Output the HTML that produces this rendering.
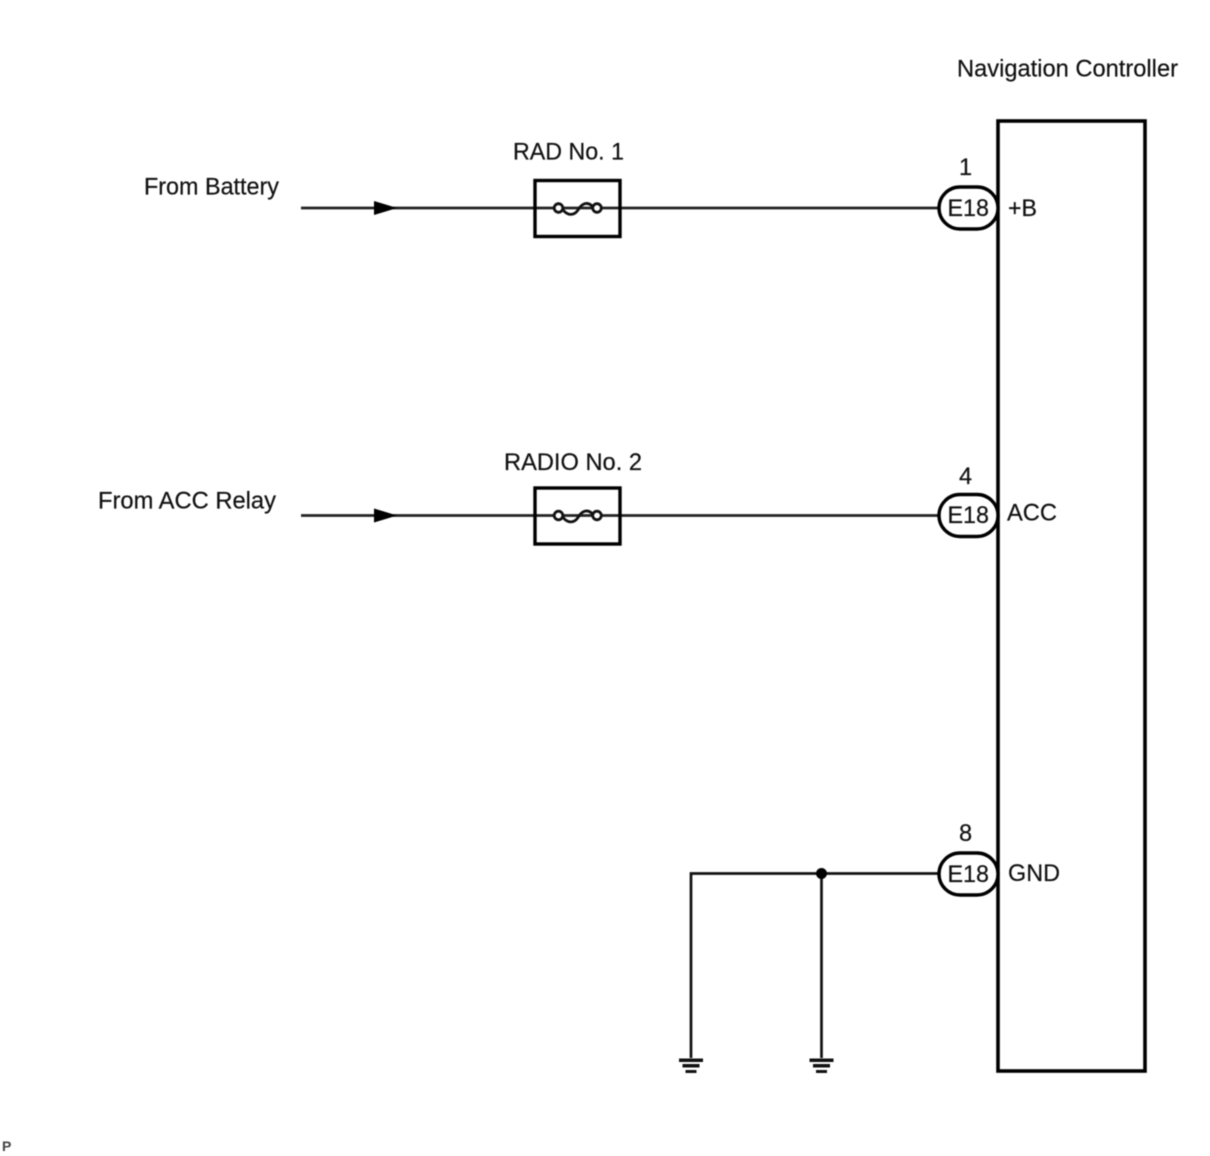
<!DOCTYPE html>
<html>
<head>
<meta charset="utf-8">
<style>
html,body{margin:0;padding:0;background:#fff;width:1210px;height:1156px;overflow:hidden}
svg{display:block;filter:blur(0.45px)}
text{font-family:"Liberation Sans",sans-serif;font-size:23.6px;fill:#111;stroke:#111;stroke-width:0.2px}
</style>
</head>
<body>
<svg width="1210" height="1156" viewBox="0 0 1210 1156" xmlns="http://www.w3.org/2000/svg">
<rect width="1210" height="1156" fill="#fff" style="fill:#fff;stroke:none"/>
<!-- Controller -->
<rect x="998" y="121" width="147" height="950" fill="#fff" stroke="#000" stroke-width="3.600"/>
<text x="957" y="76.500" textLength="221" lengthAdjust="spacingAndGlyphs">Navigation Controller</text>

<!-- Row 1 -->
<text x="144" y="194.300" textLength="135" lengthAdjust="spacingAndGlyphs">From Battery</text>
<text x="513" y="159.700" textLength="111" lengthAdjust="spacingAndGlyphs">RAD No. 1</text>
<line x1="301" y1="208" x2="940" y2="208" stroke="#222" stroke-width="2.700"/>
<polygon points="374,201 397,208 374,215" fill="#000"/>
<rect x="535" y="180.500" width="85" height="56" fill="none" stroke="#000" stroke-width="3.400"/>
<circle cx="558.500" cy="208" r="4.300" fill="#fff" stroke="#111" stroke-width="2.800"/>
<circle cx="597" cy="208" r="4.300" fill="#fff" stroke="#111" stroke-width="2.800"/>
<path d="M562.500 209 C567 216 574 216 578 210 C582 203 588 201 593 207" fill="none" stroke="#111" stroke-width="2.800"/>
<rect x="939" y="187" width="59" height="42" rx="21" fill="#fff" stroke="#000" stroke-width="3.400"/>
<text x="947.500" y="216" textLength="41.500" lengthAdjust="spacingAndGlyphs">E18</text>
<text x="959" y="175">1</text>
<text x="1008" y="216" textLength="29" lengthAdjust="spacingAndGlyphs">+B</text>

<!-- Row 2 -->
<text x="98" y="508.300" textLength="178" lengthAdjust="spacingAndGlyphs">From ACC Relay</text>
<text x="504" y="470" textLength="138" lengthAdjust="spacingAndGlyphs">RADIO No. 2</text>
<line x1="301" y1="515.500" x2="940" y2="515.500" stroke="#222" stroke-width="2.700"/>
<polygon points="374,508.500 397,515.500 374,522.500" fill="#000"/>
<rect x="535" y="488" width="85" height="56" fill="none" stroke="#000" stroke-width="3.400"/>
<circle cx="558.500" cy="515.500" r="4.300" fill="#fff" stroke="#111" stroke-width="2.800"/>
<circle cx="597" cy="515.500" r="4.300" fill="#fff" stroke="#111" stroke-width="2.800"/>
<path d="M562.500 516.500 C567 523.500 574 523.500 578 517.500 C582 510.500 588 508.500 593 514.500" fill="none" stroke="#111" stroke-width="2.800"/>
<rect x="939" y="494.500" width="59" height="42" rx="21" fill="#fff" stroke="#000" stroke-width="3.400"/>
<text x="947.500" y="523" textLength="41.500" lengthAdjust="spacingAndGlyphs">E18</text>
<text x="959" y="484">4</text>
<text x="1007" y="520.500" textLength="50" lengthAdjust="spacingAndGlyphs">ACC</text>

<!-- Row 3 -->
<path d="M940 873.500 H691 V1058" fill="none" stroke="#111" stroke-width="2.700"/>
<line x1="821.500" y1="873.500" x2="821.500" y2="1058" stroke="#111" stroke-width="2.700"/>
<circle cx="821.500" cy="873.500" r="5.500" fill="#000"/>
<rect x="939" y="853" width="59" height="42" rx="21" fill="#fff" stroke="#000" stroke-width="3.400"/>
<text x="947.500" y="882" textLength="41.500" lengthAdjust="spacingAndGlyphs">E18</text>
<text x="959" y="841">8</text>
<text x="1008" y="881" textLength="52" lengthAdjust="spacingAndGlyphs">GND</text>

<!-- Grounds -->
<g fill="#111">
<rect x="679" y="1058.500" width="24" height="3.500"/>
<rect x="682.500" y="1064" width="17" height="3.500"/>
<rect x="685.500" y="1070" width="11" height="3"/>
<rect x="809.500" y="1058.500" width="24" height="3.500"/>
<rect x="813" y="1064" width="17" height="3.500"/>
<rect x="816" y="1070" width="11" height="3"/>
</g>

<text x="2" y="1151" style="font-size:14px;font-weight:bold;fill:#444;stroke:none">P</text>
</svg>
</body>
</html>
